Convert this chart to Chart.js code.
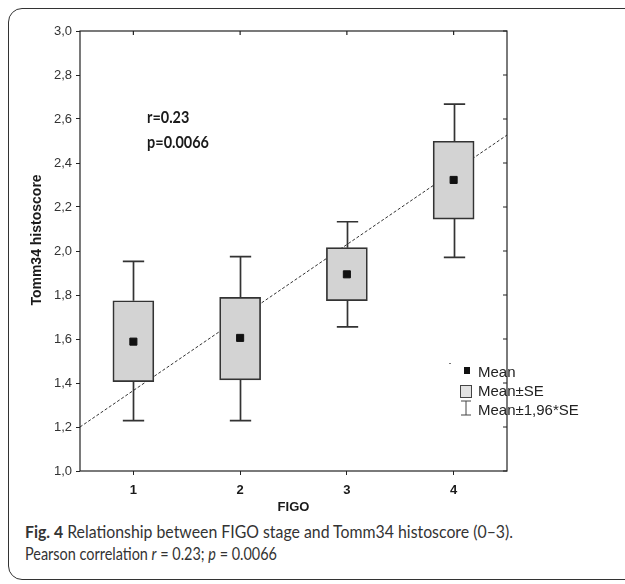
<!DOCTYPE html>
<html>
<head>
<meta charset="utf-8">
<script src="https://cdn.jsdelivr.net/npm/chart.js@4"></script>
<style>
  html, body { margin: 0; padding: 0; background: #fff; width: 625px; height: 584px; overflow: hidden; }
  #frame { position: absolute; left: 8px; top: 8px; width: 700px; height: 570px; border: 1.6px solid #333; border-radius: 14px; }
  #wrap { position: absolute; left: 0; top: 0; width: 625px; height: 520px; }
  #caption { position: absolute; left: 25px; top: 521px; font-family: "Liberation Sans Narrow", Lato, sans-serif; font-size: 17px; line-height: 22px; color: #333; white-space: nowrap; }
  #caption span { display: inline-block; transform-origin: left center; }
</style>
</head>
<body>
<div id="frame"></div>
<div id="wrap"><canvas id="c"></canvas></div>
<div id="caption">
  <span id="l1"><b>Fig. 4</b> Relationship between FIGO stage and Tomm34 histoscore (0–3).</span><br>
  <span id="l2">Pearson correlation <i>r</i> = 0.23; <i>p</i> = 0.0066</span>
</div>
<script>
  // Datos: media, ±SE y ±1,96*SE por estadio FIGO.
  const STAGES = [1, 2, 3, 4];
  const STAGE_LABELS = ["1", "2", "3", "4"];
  const MEAN = [1.588, 1.605, 1.894, 2.323];
  const SE_LO = [1.406, 1.414, 1.774, 2.145];
  const SE_HI = [1.774, 1.789, 2.015, 2.499];
  const CI_LO = [1.229, 1.229, 1.655, 1.971];
  const CI_HI = [1.953, 1.974, 2.133, 2.668];
  // Recta de regresión (extremos del eje x).
  const REG_X = [0.5, 4.5];
  const REG_Y = [1.2, 2.527];
  const STATS = ["r=0.23", "p=0.0066"];
  const LEGEND_LABELS = ["Mean", "Mean±SE", "Mean±1,96*SE"];

  const INK = "#222";
  const comma = (v) => Number(v).toFixed(1).replace(".", ",");

  // Bigotes (±1,96*SE), antes de las cajas.
  const whiskers = {
    id: "whiskers",
    beforeDatasetDraw(chart, args) {
      if (args.index !== 1) return;
      const { ctx, scales: { x, y } } = chart;
      const cap = x.getPixelForValue(1.1) - x.getPixelForValue(1);
      ctx.save();
      ctx.strokeStyle = "#333"; ctx.lineWidth = 1.7;
      STAGES.forEach((s, i) => {
        const px = Math.round(x.getPixelForValue(s)) + 0.5;
        ctx.beginPath();
        [[CI_HI[i], SE_HI[i]], [CI_LO[i], SE_LO[i]]].forEach(([end, box]) => {
          const pe = y.getPixelForValue(end), pb = y.getPixelForValue(box);
          ctx.moveTo(px, pb); ctx.lineTo(px, pe);
          ctx.moveTo(px - cap, pe); ctx.lineTo(px + cap, pe);
        });
        ctx.stroke();
      });
      ctx.restore();
    },
  };

  // Marco, marcas interiores, texto r/p, leyenda y título del eje y.
  const extras = {
    id: "extras",
    afterDraw(chart) {
      const { ctx, chartArea: a, scales: { x, y } } = chart;
      ctx.save();
      ctx.strokeStyle = INK; ctx.lineWidth = 1.2;
      ctx.strokeRect(a.left, a.top, a.right - a.left, a.bottom - a.top);
      ctx.beginPath();
      STAGES.forEach((s) => { const px = x.getPixelForValue(s); ctx.moveTo(px, a.top); ctx.lineTo(px, a.top + 4); });
      y.ticks.forEach((t) => { const py = y.getPixelForValue(t.value); ctx.moveTo(a.right, py); ctx.lineTo(a.right - 4, py); });
      ctx.stroke();

      // r / p (letra estrecha)
      ctx.fillStyle = "#1a1a1a";
      ctx.font = "bold 17px Lato, sans-serif";
      ctx.textBaseline = "middle";
      [[STATS[0], 2.605], [STATS[1], 2.495]].forEach(([t, v]) => {
        ctx.save();
        ctx.translate(x.getPixelForValue(1.128), y.getPixelForValue(v));
        ctx.scale(0.85, 1);
        ctx.fillText(t, 0, 0);
        ctx.restore();
      });

      // Leyenda
      const lx = a.right - 29, ly = 373;
      ctx.font = "15px 'Liberation Sans', Arial, sans-serif";
      ctx.fillStyle = INK;
      LEGEND_LABELS.forEach((t, i) => ctx.fillText(t, lx, ly + i * 19));
      ctx.fillStyle = "#111";
      ctx.fillRect(lx - 14, ly - 6, 6, 7);
      ctx.fillStyle = "#e2e2e2"; ctx.strokeStyle = "#444"; ctx.lineWidth = 1;
      ctx.fillRect(lx - 17, ly + 12.5, 11, 12); ctx.strokeRect(lx - 17.5, ly + 12.5, 11, 12);
      ctx.beginPath();
      ctx.moveTo(lx - 12, ly + 28); ctx.lineTo(lx - 12, ly + 42);
      ctx.moveTo(lx - 17, ly + 28); ctx.lineTo(lx - 7, ly + 28);
      ctx.moveTo(lx - 17, ly + 42); ctx.lineTo(lx - 7, ly + 42);
      ctx.stroke();
      ctx.strokeStyle = "#777";
      ctx.beginPath(); ctx.moveTo(lx - 29, ly - 9.5); ctx.lineTo(lx - 27, ly - 9.5); ctx.stroke();

      // Título eje y
      ctx.translate(37, 240);
      ctx.rotate(-Math.PI / 2);
      ctx.fillStyle = "#1a1a1a";
      ctx.font = "bold 14px 'Liberation Sans', Arial, sans-serif";
      ctx.textAlign = "center";
      ctx.fillText("Tomm34 histoscore", 0, 0);
      ctx.restore();
    },
  };

  new Chart(document.getElementById("c"), {
    type: "bar",
    data: {
      datasets: [
        {
          type: "scatter", label: "Mean",
          data: STAGES.map((s, i) => ({ x: s, y: MEAN[i] })),
          pointStyle: "rect", pointRadius: 5, pointBorderWidth: 1,
          backgroundColor: "#111", borderColor: "#111",
        },
        {
          type: "bar", label: "Mean±SE",
          data: STAGES.map((s, i) => ({ x: s, y: [SE_LO[i], SE_HI[i]] })),
          barThickness: 41, backgroundColor: "#d3d3d3", borderColor: "#333",
          borderWidth: 1.7, borderSkipped: false,
        },
        {
          type: "line", label: "fit",
          data: REG_X.map((v, i) => ({ x: v, y: REG_Y[i] })),
          borderColor: "#333", borderWidth: 1, borderDash: [3, 2], pointRadius: 0, fill: false,
        },
      ],
    },
    options: {
      responsive: true, maintainAspectRatio: false, animation: false,
      layout: { padding: { top: 31, right: 118, left: 0, bottom: 0 } },
      plugins: { legend: { display: false }, tooltip: { enabled: false } },
      scales: {
        x: {
          type: "linear", min: 0.5, max: 4.5, offset: false,
          afterBuildTicks: (s) => { s.ticks = STAGES.map((v) => ({ value: v })); },
          afterFit: (s) => { s.height = 49; },
          border: { display: false },
          grid: { drawOnChartArea: false, tickLength: 4, color: INK, offset: false },
          ticks: {
            padding: 8, color: "#1a1a1a",
            font: { family: "'Liberation Sans', Arial, sans-serif", size: 13, weight: "bold" },
            callback: (v) => STAGE_LABELS[STAGES.indexOf(v)] ?? "",
          },
          title: {
            display: true, text: "FIGO", color: "#1a1a1a", padding: { top: 0, bottom: 5 },
            font: { family: "'Liberation Sans', Arial, sans-serif", size: 13, weight: "bold" },
          },
        },
        y: {
          min: 1, max: 3,
          afterFit: (s) => { s.width = 80; },
          border: { display: false },
          grid: { drawOnChartArea: false, tickLength: 4, color: INK },
          ticks: {
            stepSize: 0.2, padding: 4, color: "#333",
            font: { family: "'Liberation Sans', Arial, sans-serif", size: 13 },
            callback: (v) => comma(v),
          },
        },
      },
    },
    plugins: [whiskers, extras],
  });

  // Ajuste del ancho del pie de figura.
  [["l1", 488], ["l2", 252]].forEach(([id, w]) => {
    const el = document.getElementById(id);
    el.style.transform = "scaleX(" + (w / el.getBoundingClientRect().width) + ")";
  });
</script>
</body>
</html>
